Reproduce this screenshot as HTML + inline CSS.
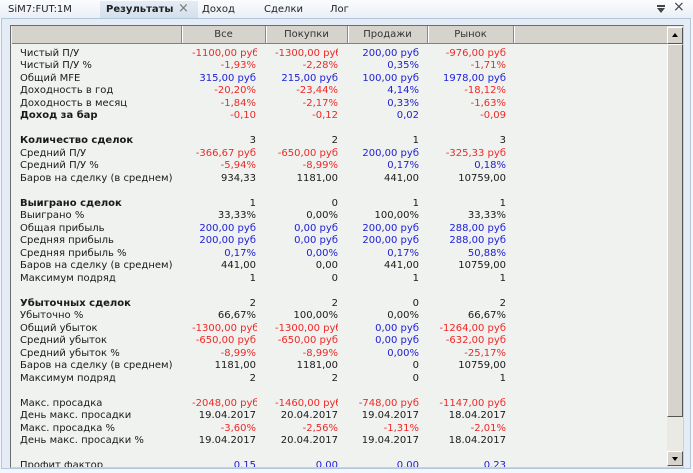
<!DOCTYPE html>
<html><head><meta charset="utf-8">
<style>
*{margin:0;padding:0;box-sizing:border-box}
html,body{width:693px;height:473px;overflow:hidden;background:#f3f6fa;font-family:"DejaVu Sans","Liberation Sans",sans-serif;font-size:10px;color:#1a1a1a}
.abs{position:absolute}
#tabbar{left:0;top:0;width:693px;height:18px;background:linear-gradient(#fbfcfe,#eaeff6)}
.tab{position:absolute;top:3px;line-height:13px;white-space:nowrap;color:#222}
#panel{left:1px;top:18px;width:690px;height:451px;border:1px solid #b3c6dc;background:#e4ecf5}
#frame{left:10px;top:25px;width:674px;height:443px;border:1px solid #6b6b6b;border-right-color:#c8d2dc;border-bottom-color:#c8d2dc;background:#eff2ee;overflow:hidden}
#hdr{left:12px;top:26px;width:655px;height:18px;background:#d6d3cc;border-bottom:1px solid #808080}
.hc{position:absolute;top:0;height:17px;line-height:18px;text-align:center;color:#333;border-right:1px solid #8a8a8a;box-shadow:1px 0 0 #fff}
#sb{left:667px;top:26px;width:16px;height:441px;background:#ebe9e3}
.btn{position:absolute;left:0;width:16px;background:#d6d3cc;border:1px solid #fff;border-right-color:#555;border-bottom-color:#555}
.row{position:absolute;left:0;height:12.5px;line-height:12.5px;white-space:nowrap}
.lab{position:absolute;left:20px;top:0}
.b{font-weight:bold}
.clip{position:absolute;top:0;height:12.5px;overflow:hidden}
.v{position:absolute;top:0;text-align:right;white-space:nowrap}
.r{color:#f02828}
.u{color:#2020d8}
</style></head><body>
<div id="tabbar" class="abs"></div>
<div class="tab" style="left:8px">SiM7:FUT:1M</div>
<div class="abs" style="left:100px;top:1px;width:98px;height:18px;background:linear-gradient(#e4ecf5,#d3dfec)"></div>
<div class="tab b" style="left:106px">Результаты</div>
<div class="tab" style="left:178px;top:2px;font-size:13px;color:#777">×</div>
<div class="tab" style="left:202px">Доход</div>
<div class="tab" style="left:264px">Сделки</div>
<div class="tab" style="left:330px">Лог</div>
<div class="abs" style="left:657px;top:5px;width:8px;height:2px;background:#444"></div>
<div class="abs" style="left:657px;top:8px;width:0;height:0;border-left:4px solid transparent;border-right:4px solid transparent;border-top:5px solid #444"></div>
<div class="tab" style="left:673px;top:1px;font-size:14px;color:#444">×</div>

<div id="panel" class="abs"></div>
<div id="frame" class="abs"></div>

<div id="hdr" class="abs">
<div class="hc" style="left:0;width:170px"></div>
<div class="hc" style="left:170px;width:84px">Все</div>
<div class="hc" style="left:254px;width:82px">Покупки</div>
<div class="hc" style="left:336px;width:80px">Продажи</div>
<div class="hc" style="left:416px;width:86px">Рынок</div>
</div>

<div id="sb" class="abs">
<div class="btn" style="top:1px;height:17px"><div class="abs" style="left:4px;top:5px;border-left:3px solid transparent;border-right:3px solid transparent;border-bottom:4px solid #000"></div></div>
<div class="btn" style="top:18px;height:373px"></div>
<div class="btn" style="top:425px;height:15px"><div class="abs" style="left:4px;top:5px;border-left:3px solid transparent;border-right:3px solid transparent;border-top:4px solid #000"></div></div>
</div>

<div class="abs" style="left:12px;top:44px;width:655px;height:423px;overflow:hidden">
<div class="abs" style="left:-12px;top:3.5px;width:700px" id="rows">
<div class="row" style="top:0"><span class="lab">Чистый П/У</span>
<div class="clip" style="left:182px;width:75px"><div class="v r" style="left:10px;width:64px">-1100,00 руб</div></div>
<div class="clip" style="left:266px;width:72px"><div class="v r" style="left:9px;width:63px">-1300,00 руб</div></div>
<div class="clip" style="left:348px;width:75px"><div class="v u" style="left:0;width:71px">200,00 руб</div></div>
<div class="clip" style="left:428px;width:82px"><div class="v r" style="left:0;width:78px">-976,00 руб</div></div></div>

<div class="row" style="top:12.5px"><span class="lab">Чистый П/У %</span>
<div class="clip" style="left:182px;width:77px"><div class="v r" style="left:10px;width:64px">-1,93%</div></div>
<div class="clip" style="left:266px;width:74px"><div class="v r" style="left:9px;width:63px">-2,28%</div></div>
<div class="clip" style="left:348px;width:75px"><div class="v u" style="left:0;width:71px">0,35%</div></div>
<div class="clip" style="left:428px;width:82px"><div class="v r" style="left:0;width:78px">-1,71%</div></div></div>

<div class="row" style="top:25px"><span class="lab">Общий MFE</span>
<div class="clip" style="left:182px;width:77px"><div class="v u" style="left:10px;width:64px">315,00 руб</div></div>
<div class="clip" style="left:266px;width:74px"><div class="v u" style="left:9px;width:63px">215,00 руб</div></div>
<div class="clip" style="left:348px;width:75px"><div class="v u" style="left:0;width:71px">100,00 руб</div></div>
<div class="clip" style="left:428px;width:82px"><div class="v u" style="left:0;width:78px">1978,00 руб</div></div></div>

<div class="row" style="top:37.5px"><span class="lab">Доходность в год</span>
<div class="clip" style="left:182px;width:77px"><div class="v r" style="left:10px;width:64px">-20,20%</div></div>
<div class="clip" style="left:266px;width:74px"><div class="v r" style="left:9px;width:63px">-23,44%</div></div>
<div class="clip" style="left:348px;width:75px"><div class="v u" style="left:0;width:71px">4,14%</div></div>
<div class="clip" style="left:428px;width:82px"><div class="v r" style="left:0;width:78px">-18,12%</div></div></div>

<div class="row" style="top:50px"><span class="lab">Доходность в месяц</span>
<div class="clip" style="left:182px;width:77px"><div class="v r" style="left:10px;width:64px">-1,84%</div></div>
<div class="clip" style="left:266px;width:74px"><div class="v r" style="left:9px;width:63px">-2,17%</div></div>
<div class="clip" style="left:348px;width:75px"><div class="v u" style="left:0;width:71px">0,33%</div></div>
<div class="clip" style="left:428px;width:82px"><div class="v r" style="left:0;width:78px">-1,63%</div></div></div>

<div class="row" style="top:62.5px"><span class="lab b">Доход за бар</span>
<div class="clip" style="left:182px;width:77px"><div class="v r" style="left:10px;width:64px">-0,10</div></div>
<div class="clip" style="left:266px;width:74px"><div class="v r" style="left:9px;width:63px">-0,12</div></div>
<div class="clip" style="left:348px;width:75px"><div class="v u" style="left:0;width:71px">0,02</div></div>
<div class="clip" style="left:428px;width:82px"><div class="v r" style="left:0;width:78px">-0,09</div></div></div>

<div class="row" style="top:87.5px"><span class="lab b">Количество сделок</span>
<div class="clip" style="left:182px;width:77px"><div class="v" style="left:10px;width:64px">3</div></div>
<div class="clip" style="left:266px;width:74px"><div class="v" style="left:9px;width:63px">2</div></div>
<div class="clip" style="left:348px;width:75px"><div class="v" style="left:0;width:71px">1</div></div>
<div class="clip" style="left:428px;width:82px"><div class="v" style="left:0;width:78px">3</div></div></div>

<div class="row" style="top:100px"><span class="lab">Средний П/У</span>
<div class="clip" style="left:182px;width:77px"><div class="v r" style="left:10px;width:64px">-366,67 руб</div></div>
<div class="clip" style="left:266px;width:74px"><div class="v r" style="left:9px;width:63px">-650,00 руб</div></div>
<div class="clip" style="left:348px;width:75px"><div class="v u" style="left:0;width:71px">200,00 руб</div></div>
<div class="clip" style="left:428px;width:82px"><div class="v r" style="left:0;width:78px">-325,33 руб</div></div></div>

<div class="row" style="top:112.5px"><span class="lab">Средний П/У %</span>
<div class="clip" style="left:182px;width:77px"><div class="v r" style="left:10px;width:64px">-5,94%</div></div>
<div class="clip" style="left:266px;width:74px"><div class="v r" style="left:9px;width:63px">-8,99%</div></div>
<div class="clip" style="left:348px;width:75px"><div class="v u" style="left:0;width:71px">0,17%</div></div>
<div class="clip" style="left:428px;width:82px"><div class="v u" style="left:0;width:78px">0,18%</div></div></div>

<div class="row" style="top:125px"><span class="lab">Баров на сделку (в среднем)</span>
<div class="clip" style="left:182px;width:77px"><div class="v" style="left:10px;width:64px">934,33</div></div>
<div class="clip" style="left:266px;width:74px"><div class="v" style="left:9px;width:63px">1181,00</div></div>
<div class="clip" style="left:348px;width:75px"><div class="v" style="left:0;width:71px">441,00</div></div>
<div class="clip" style="left:428px;width:82px"><div class="v" style="left:0;width:78px">10759,00</div></div></div>

<div class="row" style="top:150px"><span class="lab b">Выиграно сделок</span>
<div class="clip" style="left:182px;width:77px"><div class="v" style="left:10px;width:64px">1</div></div>
<div class="clip" style="left:266px;width:74px"><div class="v" style="left:9px;width:63px">0</div></div>
<div class="clip" style="left:348px;width:75px"><div class="v" style="left:0;width:71px">1</div></div>
<div class="clip" style="left:428px;width:82px"><div class="v" style="left:0;width:78px">1</div></div></div>

<div class="row" style="top:162.5px"><span class="lab">Выиграно %</span>
<div class="clip" style="left:182px;width:77px"><div class="v" style="left:10px;width:64px">33,33%</div></div>
<div class="clip" style="left:266px;width:74px"><div class="v" style="left:9px;width:63px">0,00%</div></div>
<div class="clip" style="left:348px;width:75px"><div class="v" style="left:0;width:71px">100,00%</div></div>
<div class="clip" style="left:428px;width:82px"><div class="v" style="left:0;width:78px">33,33%</div></div></div>

<div class="row" style="top:175px"><span class="lab">Общая прибыль</span>
<div class="clip" style="left:182px;width:77px"><div class="v u" style="left:10px;width:64px">200,00 руб</div></div>
<div class="clip" style="left:266px;width:74px"><div class="v u" style="left:9px;width:63px">0,00 руб</div></div>
<div class="clip" style="left:348px;width:75px"><div class="v u" style="left:0;width:71px">200,00 руб</div></div>
<div class="clip" style="left:428px;width:82px"><div class="v u" style="left:0;width:78px">288,00 руб</div></div></div>

<div class="row" style="top:187.5px"><span class="lab">Средняя прибыль</span>
<div class="clip" style="left:182px;width:77px"><div class="v u" style="left:10px;width:64px">200,00 руб</div></div>
<div class="clip" style="left:266px;width:74px"><div class="v u" style="left:9px;width:63px">0,00 руб</div></div>
<div class="clip" style="left:348px;width:75px"><div class="v u" style="left:0;width:71px">200,00 руб</div></div>
<div class="clip" style="left:428px;width:82px"><div class="v u" style="left:0;width:78px">288,00 руб</div></div></div>

<div class="row" style="top:200px"><span class="lab">Средняя прибыль %</span>
<div class="clip" style="left:182px;width:77px"><div class="v u" style="left:10px;width:64px">0,17%</div></div>
<div class="clip" style="left:266px;width:74px"><div class="v u" style="left:9px;width:63px">0,00%</div></div>
<div class="clip" style="left:348px;width:75px"><div class="v u" style="left:0;width:71px">0,17%</div></div>
<div class="clip" style="left:428px;width:82px"><div class="v u" style="left:0;width:78px">50,88%</div></div></div>

<div class="row" style="top:212.5px"><span class="lab">Баров на сделку (в среднем)</span>
<div class="clip" style="left:182px;width:77px"><div class="v" style="left:10px;width:64px">441,00</div></div>
<div class="clip" style="left:266px;width:74px"><div class="v" style="left:9px;width:63px">0,00</div></div>
<div class="clip" style="left:348px;width:75px"><div class="v" style="left:0;width:71px">441,00</div></div>
<div class="clip" style="left:428px;width:82px"><div class="v" style="left:0;width:78px">10759,00</div></div></div>

<div class="row" style="top:225px"><span class="lab">Максимум подряд</span>
<div class="clip" style="left:182px;width:77px"><div class="v" style="left:10px;width:64px">1</div></div>
<div class="clip" style="left:266px;width:74px"><div class="v" style="left:9px;width:63px">0</div></div>
<div class="clip" style="left:348px;width:75px"><div class="v" style="left:0;width:71px">1</div></div>
<div class="clip" style="left:428px;width:82px"><div class="v" style="left:0;width:78px">1</div></div></div>

<div class="row" style="top:250px"><span class="lab b">Убыточных сделок</span>
<div class="clip" style="left:182px;width:77px"><div class="v" style="left:10px;width:64px">2</div></div>
<div class="clip" style="left:266px;width:74px"><div class="v" style="left:9px;width:63px">2</div></div>
<div class="clip" style="left:348px;width:75px"><div class="v" style="left:0;width:71px">0</div></div>
<div class="clip" style="left:428px;width:82px"><div class="v" style="left:0;width:78px">2</div></div></div>

<div class="row" style="top:262.5px"><span class="lab">Убыточно %</span>
<div class="clip" style="left:182px;width:77px"><div class="v" style="left:10px;width:64px">66,67%</div></div>
<div class="clip" style="left:266px;width:74px"><div class="v" style="left:9px;width:63px">100,00%</div></div>
<div class="clip" style="left:348px;width:75px"><div class="v" style="left:0;width:71px">0,00%</div></div>
<div class="clip" style="left:428px;width:82px"><div class="v" style="left:0;width:78px">66,67%</div></div></div>

<div class="row" style="top:275px"><span class="lab">Общий убыток</span>
<div class="clip" style="left:182px;width:75px"><div class="v r" style="left:10px;width:64px">-1300,00 руб</div></div>
<div class="clip" style="left:266px;width:72px"><div class="v r" style="left:9px;width:63px">-1300,00 руб</div></div>
<div class="clip" style="left:348px;width:75px"><div class="v u" style="left:0;width:71px">0,00 руб</div></div>
<div class="clip" style="left:428px;width:82px"><div class="v r" style="left:0;width:78px">-1264,00 руб</div></div></div>

<div class="row" style="top:287.5px"><span class="lab">Средний убыток</span>
<div class="clip" style="left:182px;width:77px"><div class="v r" style="left:10px;width:64px">-650,00 руб</div></div>
<div class="clip" style="left:266px;width:74px"><div class="v r" style="left:9px;width:63px">-650,00 руб</div></div>
<div class="clip" style="left:348px;width:75px"><div class="v u" style="left:0;width:71px">0,00 руб</div></div>
<div class="clip" style="left:428px;width:82px"><div class="v r" style="left:0;width:78px">-632,00 руб</div></div></div>

<div class="row" style="top:300px"><span class="lab">Средний убыток %</span>
<div class="clip" style="left:182px;width:77px"><div class="v r" style="left:10px;width:64px">-8,99%</div></div>
<div class="clip" style="left:266px;width:74px"><div class="v r" style="left:9px;width:63px">-8,99%</div></div>
<div class="clip" style="left:348px;width:75px"><div class="v u" style="left:0;width:71px">0,00%</div></div>
<div class="clip" style="left:428px;width:82px"><div class="v r" style="left:0;width:78px">-25,17%</div></div></div>

<div class="row" style="top:312.5px"><span class="lab">Баров на сделку (в среднем)</span>
<div class="clip" style="left:182px;width:77px"><div class="v" style="left:10px;width:64px">1181,00</div></div>
<div class="clip" style="left:266px;width:74px"><div class="v" style="left:9px;width:63px">1181,00</div></div>
<div class="clip" style="left:348px;width:75px"><div class="v" style="left:0;width:71px">0</div></div>
<div class="clip" style="left:428px;width:82px"><div class="v" style="left:0;width:78px">10759,00</div></div></div>

<div class="row" style="top:325px"><span class="lab">Максимум подряд</span>
<div class="clip" style="left:182px;width:77px"><div class="v" style="left:10px;width:64px">2</div></div>
<div class="clip" style="left:266px;width:74px"><div class="v" style="left:9px;width:63px">2</div></div>
<div class="clip" style="left:348px;width:75px"><div class="v" style="left:0;width:71px">0</div></div>
<div class="clip" style="left:428px;width:82px"><div class="v" style="left:0;width:78px">1</div></div></div>

<div class="row" style="top:350px"><span class="lab">Макс. просадка</span>
<div class="clip" style="left:182px;width:75px"><div class="v r" style="left:10px;width:64px">-2048,00 руб</div></div>
<div class="clip" style="left:266px;width:72px"><div class="v r" style="left:9px;width:63px">-1460,00 руб</div></div>
<div class="clip" style="left:348px;width:75px"><div class="v r" style="left:0;width:71px">-748,00 руб</div></div>
<div class="clip" style="left:428px;width:82px"><div class="v r" style="left:0;width:78px">-1147,00 руб</div></div></div>

<div class="row" style="top:362.5px"><span class="lab">День макс. просадки</span>
<div class="clip" style="left:182px;width:77px"><div class="v" style="left:10px;width:64px">19.04.2017</div></div>
<div class="clip" style="left:266px;width:74px"><div class="v" style="left:9px;width:63px">20.04.2017</div></div>
<div class="clip" style="left:348px;width:75px"><div class="v" style="left:0;width:71px">19.04.2017</div></div>
<div class="clip" style="left:428px;width:82px"><div class="v" style="left:0;width:78px">18.04.2017</div></div></div>

<div class="row" style="top:375px"><span class="lab">Макс. просадка %</span>
<div class="clip" style="left:182px;width:77px"><div class="v r" style="left:10px;width:64px">-3,60%</div></div>
<div class="clip" style="left:266px;width:74px"><div class="v r" style="left:9px;width:63px">-2,56%</div></div>
<div class="clip" style="left:348px;width:75px"><div class="v r" style="left:0;width:71px">-1,31%</div></div>
<div class="clip" style="left:428px;width:82px"><div class="v r" style="left:0;width:78px">-2,01%</div></div></div>

<div class="row" style="top:387.5px"><span class="lab">День макс. просадки %</span>
<div class="clip" style="left:182px;width:77px"><div class="v" style="left:10px;width:64px">19.04.2017</div></div>
<div class="clip" style="left:266px;width:74px"><div class="v" style="left:9px;width:63px">20.04.2017</div></div>
<div class="clip" style="left:348px;width:75px"><div class="v" style="left:0;width:71px">19.04.2017</div></div>
<div class="clip" style="left:428px;width:82px"><div class="v" style="left:0;width:78px">18.04.2017</div></div></div>

<div class="row" style="top:412.5px"><span class="lab">Профит фактор</span>
<div class="clip" style="left:182px;width:77px"><div class="v u" style="left:10px;width:64px">0.15</div></div>
<div class="clip" style="left:266px;width:74px"><div class="v u" style="left:9px;width:63px">0.00</div></div>
<div class="clip" style="left:348px;width:75px"><div class="v u" style="left:0;width:71px">0.00</div></div>
<div class="clip" style="left:428px;width:82px"><div class="v u" style="left:0;width:78px">0.23</div></div></div>
</div>
</div>
</body></html>
